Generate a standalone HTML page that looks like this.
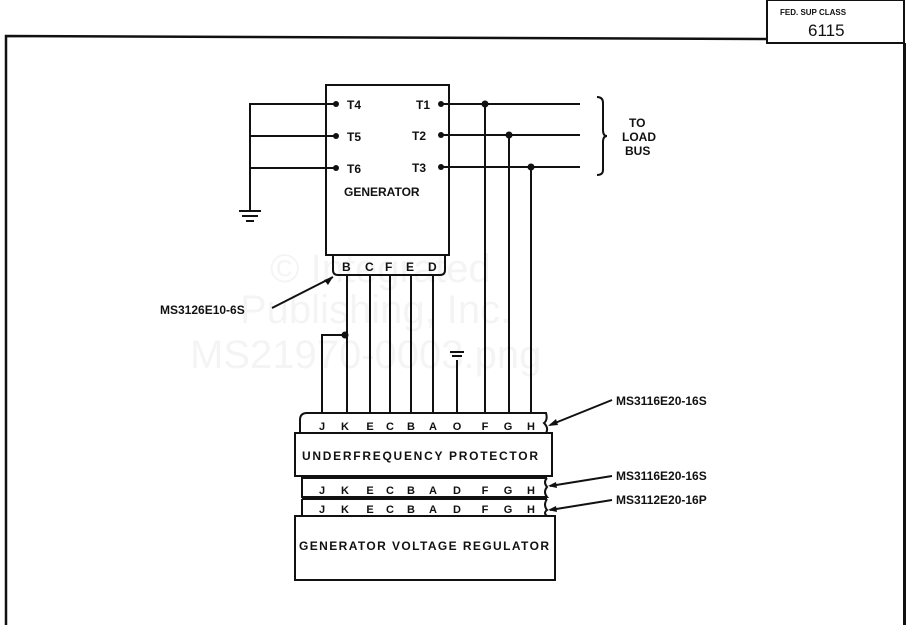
<!DOCTYPE html>
<html><head><style>
html,body{margin:0;padding:0;background:#fff;}
svg{display:block;}
text{font-family:"Liberation Sans",sans-serif;font-weight:bold;fill:#111;}
</style></head><body>
<svg width="910" height="625" viewBox="0 0 910 625" xmlns="http://www.w3.org/2000/svg">
<g stroke="#111" stroke-width="2" fill="none">
<!-- border -->
<polyline points="6,625 6,36 767,39" stroke-width="2.5"/>
<rect x="767" y="0" width="137" height="43"/>
<line x1="904.5" y1="43" x2="904.5" y2="625" stroke-width="3"/>
<!-- generator -->
<rect x="326" y="85" width="123" height="170"/>
<path d="M333,255 V270 Q333,275 338,275 H440 Q445,275 445,270 V255"/>
<!-- left terminals -->
<polyline points="336,104 250,104 250,210"/>
<line x1="250" y1="136" x2="336" y2="136"/>
<line x1="250" y1="168" x2="336" y2="168"/>
<line x1="239" y1="211" x2="261" y2="211"/>
<line x1="242" y1="216" x2="258" y2="216"/>
<line x1="246" y1="221" x2="254" y2="221"/>
<!-- right terminals -->
<line x1="441" y1="104" x2="580" y2="104"/>
<line x1="441" y1="135" x2="580" y2="135"/>
<line x1="441" y1="167" x2="580" y2="167"/>
<line x1="485" y1="104" x2="485" y2="413"/>
<line x1="509" y1="135" x2="509" y2="413"/>
<line x1="531" y1="167" x2="531" y2="413"/>
<path d="M597,97 Q603,97 603,103 V130 Q603,136 607,136 Q603,136 603,142 V170 Q603,175 597,175"/>
<!-- connector wires -->
<line x1="347" y1="275" x2="347" y2="413"/>
<line x1="370" y1="275" x2="370" y2="413"/>
<line x1="390" y1="275" x2="390" y2="413"/>
<line x1="411" y1="275" x2="411" y2="413"/>
<line x1="433" y1="275" x2="433" y2="413"/>
<polyline points="345,335 322,335 322,413"/>
<line x1="457" y1="360" x2="457" y2="413"/>
<line x1="450" y1="352" x2="464" y2="352"/>
<line x1="452" y1="356" x2="462" y2="356"/>
<!-- bottom stack -->
<path d="M300,433 V420 Q300,413 307,413 H546 Q548,420 544,423 Q549,428 546,433"/>
<rect x="295" y="433" width="257" height="43"/>
<path d="M302,476 V497 H547 Q543,492 547,487 Q543,482 547,478"/>
<line x1="302" y1="478" x2="547" y2="478"/>
<path d="M302,499 V516 M547,499 Q543,505 547,510 Q543,513 547,516"/>
<line x1="302" y1="499" x2="547" y2="499"/>
<rect x="295" y="516" width="260" height="64"/>
<!-- leaders -->
<line x1="272" y1="308" x2="333" y2="277"/>
<line x1="612" y1="400" x2="550" y2="425"/>
<line x1="612" y1="476" x2="550" y2="486"/>
<line x1="612" y1="500" x2="550" y2="510"/>
</g>
<g fill="#111">
<circle cx="336" cy="104" r="3"/><circle cx="336" cy="136" r="3"/><circle cx="336" cy="168" r="3"/>
<circle cx="441" cy="104" r="3"/><circle cx="441" cy="135" r="3"/><circle cx="441" cy="167" r="3"/>
<circle cx="485" cy="104" r="3.5"/><circle cx="509" cy="135" r="3.5"/><circle cx="531" cy="167" r="3.5"/>
<circle cx="345" cy="335" r="3.5"/>
<polygon points="333,277 324,280 328,285"/>
<polygon points="548,426 556,419 558,425"/>
<polygon points="548,486 556,482 557,488"/>
<polygon points="548,510 556,506 557,512"/>
</g>
<g opacity="0.04">
<text x="270" y="282" font-size="40" style="font-weight:normal;fill:#000">© Integrated</text>
<text x="240" y="323" font-size="40" style="font-weight:normal;fill:#000">Publishing, Inc.</text>
<text x="190" y="368" font-size="40" style="font-weight:normal;fill:#000">MS21970-0003.png</text>
</g>
<g font-size="12">
<text x="780" y="15" font-size="8">FED. SUP CLASS</text>
<text x="808" y="36" font-size="17" style="font-weight:normal">6115</text>
<text x="347" y="109">T4</text><text x="347" y="141">T5</text><text x="347" y="173">T6</text>
<text x="416" y="109">T1</text><text x="412" y="140">T2</text><text x="412" y="172">T3</text>
<text x="344" y="196">GENERATOR</text>
<text x="342" y="271">B</text><text x="365" y="271">C</text><text x="385" y="271">F</text><text x="406" y="271">E</text><text x="428" y="271">D</text>
<text x="629" y="127">TO</text><text x="622" y="141">LOAD</text><text x="625" y="155">BUS</text>
<text x="160" y="314">MS3126E10-6S</text>
<text x="616" y="405">MS3116E20-16S</text>
<text x="616" y="480">MS3116E20-16S</text>
<text x="616" y="504">MS3112E20-16P</text>
<text x="302" y="460" textLength="236" lengthAdjust="spacing">UNDERFREQUENCY  PROTECTOR</text>
<text x="299" y="550" textLength="250" lengthAdjust="spacing">GENERATOR VOLTAGE REGULATOR</text>
</g>
<g font-size="11" text-anchor="middle">
<text x="322" y="430">J</text><text x="345" y="430">K</text><text x="370" y="430">E</text><text x="390" y="430">C</text><text x="411" y="430">B</text><text x="433" y="430">A</text><text x="457" y="430">O</text><text x="485" y="430">F</text><text x="508" y="430">G</text><text x="531" y="430">H</text>
<text x="322" y="494">J</text><text x="345" y="494">K</text><text x="370" y="494">E</text><text x="390" y="494">C</text><text x="411" y="494">B</text><text x="433" y="494">A</text><text x="457" y="494">D</text><text x="485" y="494">F</text><text x="508" y="494">G</text><text x="531" y="494">H</text>
<text x="322" y="513">J</text><text x="345" y="513">K</text><text x="370" y="513">E</text><text x="390" y="513">C</text><text x="411" y="513">B</text><text x="433" y="513">A</text><text x="457" y="513">D</text><text x="485" y="513">F</text><text x="508" y="513">G</text><text x="531" y="513">H</text>
</g>
</svg>
</body></html>
